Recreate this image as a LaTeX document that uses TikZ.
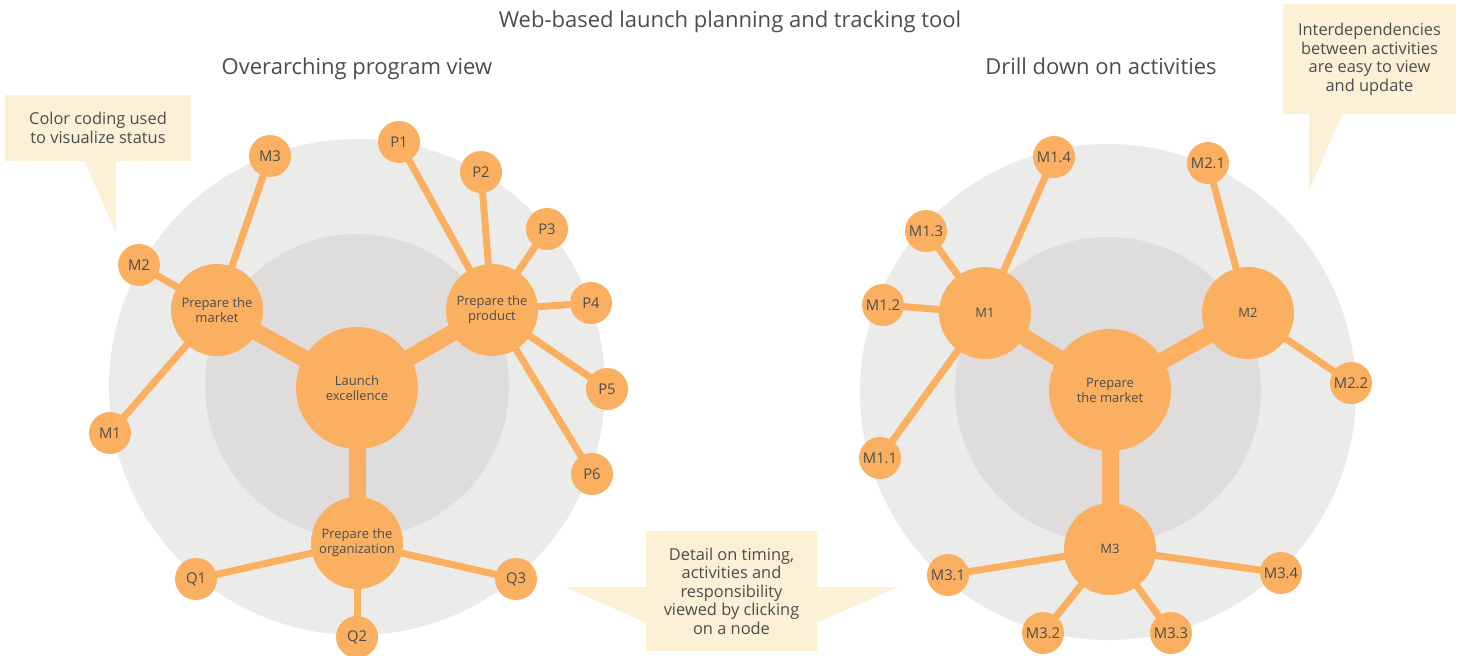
\documentclass[tikz,border=0pt]{standalone}
\usepackage{fontspec}
\setmainfont{Open Sans}
\usetikzlibrary{backgrounds}

\definecolor{NodeOrange}{RGB}{251,176,97}
\definecolor{RingOuter}{RGB}{235,235,234}
\definecolor{RingInner}{RGB}{222,221,220}
\definecolor{NoteCream}{RGB}{252,241,215}
\definecolor{Ink}{RGB}{77,77,77}

\begin{document}
\begin{tikzpicture}[
  x=0.5pt,y=-0.5pt,
  every node/.style={text=Ink},
  leaf/.style={circle,fill=NodeOrange,inner sep=0,minimum size=21pt,
    font=\fontsize{7.4}{8.5}\selectfont},
  hub/.style={circle,fill=NodeOrange,inner sep=0,minimum size=46pt,
    align=center,font=\fontsize{6.5}{7.5}\selectfont},
  core/.style={hub,minimum size=61pt},
  heading/.style={anchor=base,font=\fontsize{11}{13}\selectfont},
  note/.style={fill=NoteCream,inner sep=0,align=center,
    font=\fontsize{8.2}{9.25}\selectfont},
  thinlink/.style={draw=NodeOrange,line width=3.5pt},
  thicklink/.style={draw=NodeOrange,line width=8.5pt}
  ]

  \useasboundingbox (0,0) rectangle (1463,655);

  \node[heading] (title)  at (730,27)  {Web-based launch planning and tracking tool};
  \node[heading] (lhead)  at (357,74)  {Overarching program view};
  \node[heading] (rhead)  at (1101,74) {Drill down on activities};

  % program view
  \node[core] (launch) at (357,388) {Launch\\excellence};
  \node[hub]  (lmkt)   at (217,310) {Prepare the\\market};
  \node[hub]  (lprod)  at (492,310) {Prepare the\\product};
  \node[hub]  (lorg)   at (357,543) {Prepare the\\organization};

  \node[leaf] (m1) at (110,433) {M1};
  \node[leaf] (m2) at (139,265) {M2};
  \node[leaf] (m3) at (270,156) {M3};
  \node[leaf] (p1) at (399,142) {P1};
  \node[leaf] (p2) at (481,172) {P2};
  \node[leaf] (p3) at (547,229) {P3};
  \node[leaf] (p4) at (591,303) {P4};
  \node[leaf] (p5) at (607,389) {P5};
  \node[leaf] (p6) at (592,474) {P6};
  \node[leaf] (q1) at (196,579) {Q1};
  \node[leaf] (q2) at (357,637) {Q2};
  \node[leaf] (q3) at (516,579) {Q3};

  % activity view
  \node[core] (rmkt) at (1110,390) {Prepare\\the market};
  \node[hub]  (rm1)  at (985,313)  {M1};
  \node[hub]  (rm2)  at (1248,313) {M2};
  \node[hub]  (rm3)  at (1110,549) {M3};

  \node[leaf] (rm11) at (880,458)  {M1.1};
  \node[leaf] (rm12) at (883,305)  {M1.2};
  \node[leaf] (rm13) at (926,231)  {M1.3};
  \node[leaf] (rm14) at (1054,157) {M1.4};
  \node[leaf] (rm21) at (1208,163) {M2.1};
  \node[leaf] (rm22) at (1351,383) {M2.2};
  \node[leaf] (rm31) at (948,575)  {M3.1};
  \node[leaf] (rm32) at (1043,633) {M3.2};
  \node[leaf] (rm33) at (1171,633) {M3.3};
  \node[leaf] (rm34) at (1281,573) {M3.4};

  \begin{scope}[on background layer]
    \fill[white] (0,0) rectangle (1463,655);
    \fill[RingOuter] (357,387)  circle[radius=248];
    \fill[RingInner] (357,386)  circle[radius=152];
    \fill[RingOuter] (1108,392) circle[radius=248];
    \fill[RingInner] (1108,390) circle[radius=153];

    \path[thicklink]
      (launch.center) edge (lmkt.center)
      (launch.center) edge (lprod.center)
      (launch.center) edge (lorg.center)
      (rmkt.center)   edge (rm1.center)
      (rmkt.center)   edge (rm2.center)
      (rmkt.center)   edge (rm3.center)
      ;
    \path[thinlink]
      (lmkt.center)  edge (m1.center)
      (lmkt.center)  edge (m2.center)
      (lmkt.center)  edge (m3.center)
      (lprod.center) edge (p1.center)
      (lprod.center) edge (p2.center)
      (lprod.center) edge (p3.center)
      (lprod.center) edge (p4.center)
      (lprod.center) edge (p5.center)
      (lprod.center) edge (p6.center)
      (lorg.center)  edge (q1.center)
      (lorg.center)  edge (q2.center)
      (lorg.center)  edge (q3.center)
      (rm1.center)   edge (rm11.center)
      (rm1.center)   edge (rm12.center)
      (rm1.center)   edge (rm13.center)
      (rm1.center)   edge (rm14.center)
      (rm2.center)   edge (rm21.center)
      (rm2.center)   edge (rm22.center)
      (rm3.center)   edge (rm31.center)
      (rm3.center)   edge (rm32.center)
      (rm3.center)   edge (rm33.center)
      (rm3.center)   edge (rm34.center)
      ;
  \end{scope}

  % callouts
  \node[note,minimum width=93pt,minimum height=33pt] (colornote) at (98,128)
    {Color coding used\\to visualize status};
  \fill[NoteCream] (84,160) -- (116,233) -- (116,160) -- cycle;

  \node[note,minimum width=86.5pt,minimum height=55pt] (depnote) at (1369.5,59)
    {Interdependencies\\between activities\\are easy to view\\and update};
  \fill[NoteCream] (1309,113) -- (1309,190) -- (1343,113) -- cycle;

  \node[note,minimum width=85.5pt,minimum height=60pt] (detailnote) at (731.5,591)
    {Detail on timing,\\activities and\\responsibility\\viewed by clicking\\on a node};
  \fill[NoteCream] (647,587) -- (565,587) -- (647,623) -- cycle;
  \fill[NoteCream] (816,587) -- (898,587) -- (816,623) -- cycle;
\end{tikzpicture}
\end{document}
